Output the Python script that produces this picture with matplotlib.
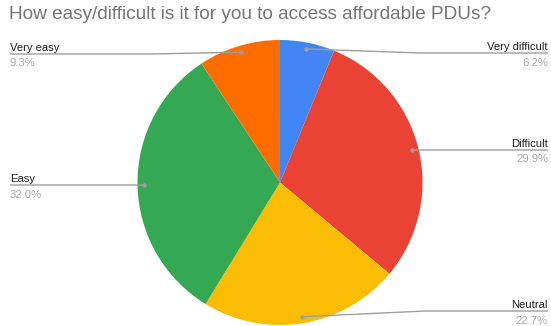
import numpy as np
import matplotlib.pyplot as plt

plt.rcParams['font.family'] = ['Liberation Sans', 'DejaVu Sans']

# --- Dados ---
labels = ['Very difficult', 'Difficult', 'Neutral', 'Easy', 'Very easy']
values = [6.2, 29.9, 22.7, 32.0, 9.3]
colors = ['#4285F4', '#EA4335', '#FBBC04', '#34A853', '#FF6D01']
title = 'How easy/difficult is it for you to access affordable PDUs?'

# --- Layout (em pixels, y para baixo) ---
W, H = 551, 326
cx, cy, R = 280, 182.5, 142.5
# lado do rótulo, altura da linha guia, ponto de quebra
sides = ['right', 'right', 'right', 'left', 'left']
line_y = [53, 150, 311, 185, 54]
elbow_x = [420, 411, 425, 144, 150]

fig = plt.figure(figsize=(W / 100, H / 100), dpi=100)
ax = fig.add_axes([0, 0, 1, 1])

ax.pie(values, colors=colors, startangle=90, counterclock=False,
       center=(cx, H - cy), radius=R, wedgeprops=dict(linewidth=0))
ax.set_xlim(0, W)
ax.set_ylim(0, H)
ax.set_aspect('auto')
ax.axis('off')

fracs = np.array(values) / sum(values)
starts = np.concatenate([[0], np.cumsum(fracs)[:-1]])
mids = 90 - (starts + fracs / 2) * 360

grey = '#9E9E9E'
for lab, v, ang, side, ly, ex in zip(labels, values, mids, sides, line_y, elbow_x):
    a = np.deg2rad(ang)
    dx = cx + 0.955 * R * np.cos(a)
    dy = cy - 0.955 * R * np.sin(a)
    if side == 'right':
        xs = [dx, ex, 548]
        tx, ha = 548, 'right'
    else:
        xs = [dx, ex, 10]
        tx, ha = 10, 'left'
    ys = [dy, ly, ly]
    ax.plot(xs, [H - y for y in ys], color=grey, lw=1.0, solid_capstyle='butt')
    ax.plot(dx, H - dy, 'o', color=grey, ms=3.2, mec='none')
    ax.text(tx, H - (ly - 3), lab, ha=ha, va='baseline', fontsize=8.1, color='#222222')
    ax.text(tx, H - (ly + 12.5), f'{v:.1f}%', ha=ha, va='baseline', fontsize=8.1, color='#A8A8A8')

ax.text(9, H - 19, title, ha='left', va='baseline', fontsize=13.7, color='#757575')

fig.savefig('out.png', dpi=100)
